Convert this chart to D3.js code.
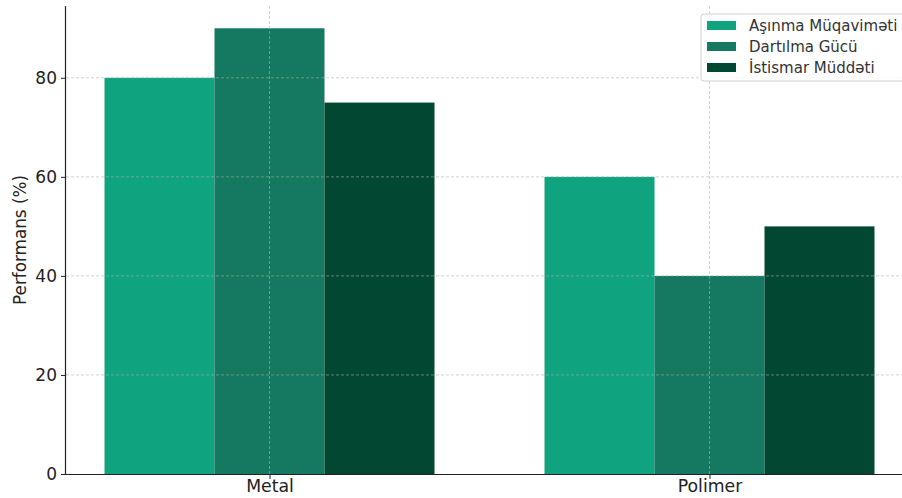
<!DOCTYPE html>
<html>
<head>
<meta charset="utf-8">
<script src="https://cdn.jsdelivr.net/npm/d3@7"></script>
<style>
  html, body { margin: 0; padding: 0; background: #fff; }
  svg { display: block; font-family: "DejaVu Sans", sans-serif; }
</style>
</head>
<body>
<svg id="chart" width="902" height="498"></svg>
<script>
// Material performance by category
const categories = ["Metal", "Polimer"];
const seriesNames = ["Aşınma Müqaviməti", "Dartılma Gücü", "İstismar Müddəti"];
const wearResistance = [80, 60];
const tensileStrength = [90, 40];
const serviceLife = [75, 50];
const seriesValues = [wearResistance, tensileStrength, serviceLife];
const colors = ["#10a37f", "#147960", "#024731"];
const yTicks = [0, 20, 40, 60, 80];

const svg = d3.select("#chart");
const plotLeft = 66, plotBottom = 474, plotTop = 6;
const barWidth = 0.25;

// Numeric x scale: category i sits at x = i, bars offset by one bar width
const x = d3.scaleLinear().domain([-0.4625, 1.4625]).range([plotLeft, plotLeft + 1.925 * 440]);
const y = d3.scaleLinear().domain([0, 94.5]).range([plotBottom, plotTop]);

// Bars
seriesValues.forEach((vals, s) => {
  svg.append("g").selectAll("rect")
    .data(vals)
    .join("rect")
    .attr("x", (d, i) => x(i + (s - 1) * barWidth - barWidth / 2))
    .attr("width", x(barWidth) - x(0))
    .attr("y", d => y(d))
    .attr("height", d => y(0) - y(d))
    .attr("fill", colors[s]);
});

// Dashed grid on top of bars
const grid = svg.append("g").attr("stroke", "#b0b0b0").attr("stroke-width", 0.8)
  .attr("stroke-dasharray", "3,2").attr("opacity", 0.7);
grid.selectAll("line.h").data(yTicks.slice(1)).join("line")
  .attr("x1", plotLeft).attr("x2", 902)
  .attr("y1", d => y(d)).attr("y2", d => y(d));
grid.selectAll("line.v").data(categories).join("line")
  .attr("x1", (d, i) => x(i)).attr("x2", (d, i) => x(i))
  .attr("y1", plotTop).attr("y2", plotBottom);

// Axes
const yAxis = d3.axisLeft(y).tickValues(yTicks).tickSize(5).tickPadding(4);
const gy = svg.append("g").attr("transform", `translate(${plotLeft},0)`).call(yAxis);
gy.select(".domain").attr("d", `M-0.5,${plotTop}V${plotBottom}`).attr("stroke", "#222").attr("stroke-width", 1.2);
gy.selectAll(".tick line").attr("stroke", "#222");
gy.selectAll(".tick text").attr("font-size", 17).attr("fill", "#222")
  .attr("font-family", "DejaVu Sans, sans-serif");

const xAxis = d3.axisBottom(x).tickValues([0, 1]).tickFormat(i => categories[i]).tickSize(5).tickPadding(1);
const gx = svg.append("g").attr("transform", `translate(0,${plotBottom})`).call(xAxis);
gx.select(".domain").attr("d", `M${plotLeft},0.5H902`).attr("stroke", "#222").attr("stroke-width", 1.2);
gx.selectAll(".tick line").attr("stroke", "#222");
gx.selectAll(".tick text").attr("font-size", 17.3).attr("fill", "#222")
  .attr("font-family", "DejaVu Sans, sans-serif");

// Y axis title
svg.append("text")
  .attr("transform", `translate(26,${(plotTop + plotBottom) / 2}) rotate(-90)`)
  .attr("text-anchor", "middle")
  .attr("font-size", 16.8)
  .attr("fill", "#222")
  .text("Performans (%)");

// Legend
const lg = svg.append("g").attr("transform", "translate(701,14)");
lg.append("rect").attr("x", 0).attr("y", 0).attr("width", 220).attr("height", 67)
  .attr("rx", 3).attr("fill", "#fff").attr("fill-opacity", 0.85)
  .attr("stroke", "#d0d0d0").attr("stroke-width", 1);
seriesNames.forEach((name, s) => {
  const row = lg.append("g").attr("transform", `translate(6,${7 + s * 21})`);
  row.append("rect").attr("width", 29).attr("height", 9).attr("fill", colors[s]);
  row.append("text").attr("x", 42).attr("y", 10).attr("font-size", 15).attr("fill", "#333").text(name);
});
</script>
</body>
</html>
